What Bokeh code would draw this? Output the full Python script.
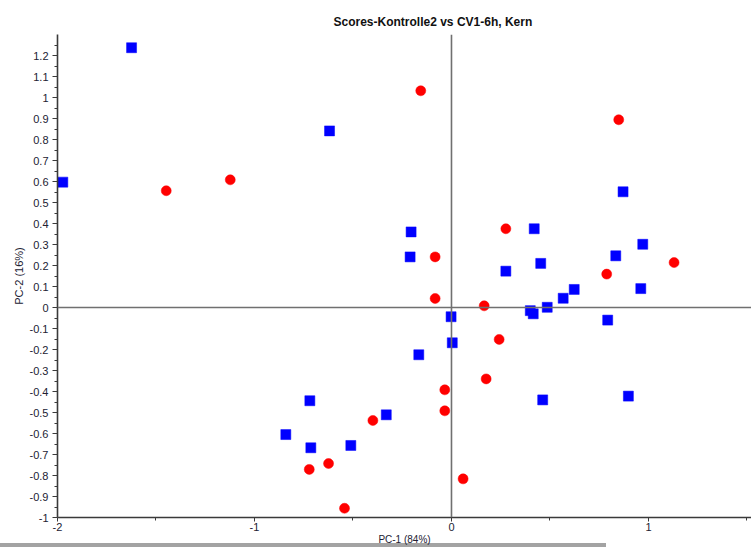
from bokeh.plotting import figure
from bokeh.models import (ColumnDataSource, FixedTicker, NumeralTickFormatter,
                          Span, Range1d)
from bokeh.embed import file_html
from bokeh.resources import INLINE

# PCA scores, Kontrolle2 (red circles)
kontrolle_x = [-1.448, -1.123, -0.156, 0.849, 0.276, -0.083, 1.130, 0.788, -0.083,
               0.166, 0.242, 0.176, -0.034, -0.034, 0.059, -0.399, -0.624, -0.722, -0.543]
kontrolle_y = [0.556, 0.608, 1.032, 0.894, 0.375, 0.241, 0.214, 0.159, 0.043,
               0.008, -0.152, -0.340, -0.392, -0.492, -0.816, -0.538, -0.743, -0.771, -0.956]

# PCA scores, CV1-6h (blue squares)
cv_x = [-1.624, -1.973, -0.619, 0.871, -0.205, 0.420, 0.971, -0.210, 0.834, 0.453,
        0.276, 0.961, 0.623, 0.567, 0.486, 0.400, 0.415, -0.002, 0.793, 0.004,
        -0.166, 0.463, 0.898, -0.719, -0.331, -0.841, -0.511, -0.714]
cv_y = [1.237, 0.597, 0.841, 0.551, 0.360, 0.375, 0.301, 0.241, 0.246, 0.210,
        0.173, 0.090, 0.086, 0.044, 0.001, -0.015, -0.030, -0.044, -0.060, -0.168,
        -0.225, -0.440, -0.422, -0.444, -0.511, -0.605, -0.657, -0.668]

x_ticks = [-2, -1, 0, 1]
x_minor_ticks = [-1.5, -0.5, 0.5, 1.5]
y_ticks = [-1, -0.9, -0.8, -0.7, -0.6, -0.5, -0.4, -0.3, -0.2, -0.1, 0,
           0.1, 0.2, 0.3, 0.4, 0.5, 0.6, 0.7, 0.8, 0.9, 1, 1.1, 1.2]
y_minor_ticks = [-0.95, -0.85, -0.75, -0.65, -0.55, -0.45, -0.35, -0.25, -0.15, -0.05,
                 0.05, 0.15, 0.25, 0.35, 0.45, 0.55, 0.65, 0.75, 0.85, 0.95, 1.05, 1.15, 1.25]

title_text = "Scores-Kontrolle2 vs CV1-6h, Kern"
x_title = "PC-1 (84%)"
y_title = "PC-2 (16%)"

FONT = "Liberation Sans"
AXIS_COLOR = "#3a3a3a"
LABEL_COLOR = "#222233"

# the page background carries a thin grey strip along the bottom edge;
# the figure's border area is left transparent so it shows through
page_bg = "linear-gradient(#a3a3a3, #a3a3a3) no-repeat left bottom / 606px 4px, #ffffff"

p = figure(width=751, height=547, output_backend="svg", toolbar_location=None,
           x_range=Range1d(-2.0, 1.523), y_range=Range1d(-1.0, 1.3),
           min_border_left=57, min_border_right=0, min_border_top=34,
           min_border_bottom=30, title=title_text,
           styles={"background": page_bg})
p.outline_line_color = None
p.xgrid.visible = False
p.ygrid.visible = False
p.background_fill_color = "white"
p.border_fill_alpha = 0.0

p.title.text_font = FONT
p.title.text_font_size = "12px"
p.title.text_font_style = "bold"
p.title.text_color = "#111111"
p.title.align = "left"
p.title.offset = 276
p.title.standoff = 12

# zero reference lines
p.add_layout(Span(location=0, dimension="width", line_color="#707070", line_width=1.6))
p.add_layout(Span(location=0, dimension="height", line_color="#707070", line_width=1.6))

src_k = ColumnDataSource(dict(x=kontrolle_x, y=kontrolle_y))
src_c = ColumnDataSource(dict(x=cv_x, y=cv_y))
p.scatter("x", "y", source=src_k, marker="circle", size=10,
          fill_color="#ff0000", line_color="#ff0000", line_width=0.5)
p.scatter("x", "y", source=src_c, marker="square", size=10,
          fill_color="#0000ff", line_color="#0000ff", line_width=0.5)

xa = p.xaxis[0]
xa.ticker = FixedTicker(ticks=x_ticks, minor_ticks=x_minor_ticks)
xa.formatter = NumeralTickFormatter(format="0.[0]")
ya = p.yaxis[0]
ya.ticker = FixedTicker(ticks=y_ticks, minor_ticks=y_minor_ticks)
ya.formatter = NumeralTickFormatter(format="0.[0]")

for ax in (xa, ya):
    ax.axis_line_color = AXIS_COLOR
    ax.axis_line_width = 1.6
    ax.major_tick_line_color = AXIS_COLOR
    ax.minor_tick_line_color = AXIS_COLOR
    ax.major_tick_in = 0
    ax.minor_tick_in = 0
    ax.major_label_text_font = FONT
    ax.major_label_text_font_size = "11px"
    ax.major_label_text_color = LABEL_COLOR
    ax.axis_label_text_font = FONT
    ax.axis_label_text_font_style = "normal"
    ax.axis_label_text_color = LABEL_COLOR

xa.major_tick_out = 4
xa.minor_tick_out = 3
xa.major_label_standoff = 1
xa.axis_label = x_title
xa.axis_label_text_font_size = "10px"
xa.axis_label_standoff = 0

ya.major_tick_out = 5
ya.minor_tick_out = 3
ya.major_label_standoff = 4
ya.axis_label = y_title
ya.axis_label_text_font_size = "11px"
ya.axis_label_standoff = 2

open("out.html", "w").write(file_html(p, INLINE))
